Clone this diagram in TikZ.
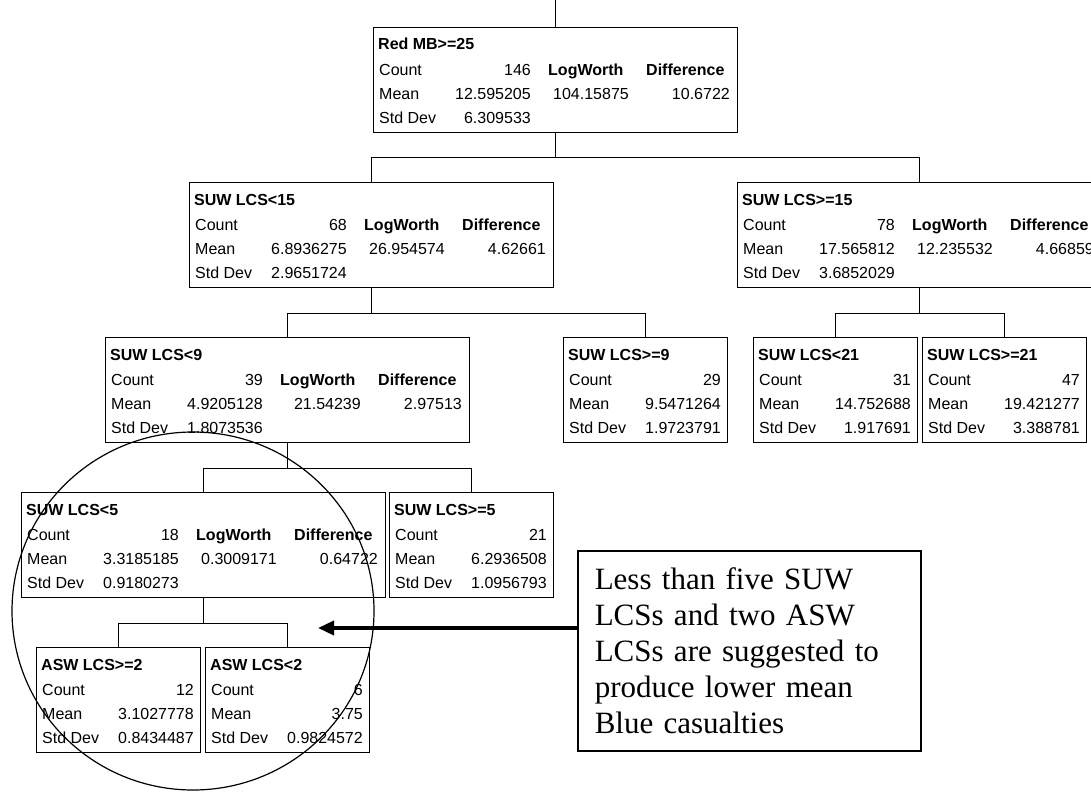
\documentclass[tikz,border=0pt]{standalone}
\usepackage{fontspec}
\setmainfont{Liberation Serif}
\setsansfont{Liberation Sans}
\usetikzlibrary{calc,positioning,arrows.meta}

\tikzset{
  tbox/.style={draw, line width=1.3pt, anchor=north west, minimum height=105pt, inner sep=0pt},
  lbl/.style={anchor=base west, inner sep=0pt, font=\sffamily\fontsize{16}{18}\selectfont},
  num/.style={anchor=base east, inner sep=0pt, font=\sffamily\fontsize{16}{18}\selectfont},
  hdr/.style={anchor=base west, inner sep=0pt, font=\sffamily\bfseries\fontsize{16}{18}\selectfont},
  link/.style={line width=1.1pt},
  notebox/.style={draw, line width=1.5pt, anchor=north west, minimum width=343pt, minimum height=200pt,
    text width=309pt, inner xsep=17pt, align=left, font=\rmfamily\fontsize{31}{36}\selectfont},
}

% split box with LogWorth / Difference columns
\newcommand{\bigbox}[9]{%
  \node[tbox, minimum width=364pt] (#1) at (#2,#3) {};
  \node[hdr] (#1-t) at ({#2+5},{#3+23}) {#4};
  \node[lbl] (#1-c) at ({#2+6},{#3+48}) {Count};
  \node[num] (#1-cv) at ({#2+158},{#3+48}) {#5};
  \node[lbl] (#1-m) at ({#2+6},{#3+72}) {Mean};
  \node[num] (#1-mv) at ({#2+158},{#3+72}) {#6};
  \node[lbl] (#1-s) at ({#2+6},{#3+96}) {Std Dev};
  \node[num] (#1-sv) at ({#2+158},{#3+96}) {#7};
  \node[hdr] (#1-lw) at ({#2+175},{#3+48}) {LogWorth};
  \node[num] (#1-lwv) at ({#2+256},{#3+72}) {#8};
  \node[hdr] (#1-d) at ({#2+273},{#3+48}) {Difference};
  \node[num] (#1-dv) at ({#2+357},{#3+72}) {#9};
}
% leaf box
\newcommand{\smallbox}[7]{%
  \node[tbox, minimum width=164pt] (#1) at (#2,#3) {};
  \node[hdr] (#1-t) at ({#2+5},{#3+23}) {#4};
  \node[lbl] (#1-c) at ({#2+6},{#3+48}) {Count};
  \node[num] (#1-cv) at ({#2+158},{#3+48}) {#5};
  \node[lbl] (#1-m) at ({#2+6},{#3+72}) {Mean};
  \node[num] (#1-mv) at ({#2+158},{#3+72}) {#6};
  \node[lbl] (#1-s) at ({#2+6},{#3+96}) {Std Dev};
  \node[num] (#1-sv) at ({#2+158},{#3+96}) {#7};
}

\begin{document}
\begin{tikzpicture}[x=1pt,y=-1pt]
        \useasboundingbox (0,0) rectangle (1091,792);
        \clip (0,0) rectangle (1091,792);

        % splits
        \bigbox{root}{373}{27}{Red MB>=25}{146}{12.595205}{6.309533}{104.15875}{10.6722}
        \bigbox{lcsLt15}{189}{182}{SUW LCS<15}{68}{6.8936275}{2.9651724}{26.954574}{4.62661}
        \bigbox{lcsGe15}{737}{182}{SUW LCS>=15}{78}{17.565812}{3.6852029}{12.235532}{4.66859}
        \bigbox{lcsLt9}{105}{337}{SUW LCS<9}{39}{4.9205128}{1.8073536}{21.54239}{2.97513}
        \bigbox{lcsLt5}{21}{492}{SUW LCS<5}{18}{3.3185185}{0.9180273}{0.3009171}{0.64722}
        % leaves
        \smallbox{lcsGe9}{563}{337}{SUW LCS>=9}{29}{9.5471264}{1.9723791}
        \smallbox{lcsLt21}{753}{337}{SUW LCS<21}{31}{14.752688}{1.917691}
        \smallbox{lcsGe21}{922}{337}{SUW LCS>=21}{47}{19.421277}{3.388781}
        \smallbox{lcsGe5}{389}{492}{SUW LCS>=5}{21}{6.2936508}{1.0956793}
        \smallbox{aswGe2}{36}{647}{ASW LCS>=2}{12}{3.1027778}{0.8434487}
        \smallbox{aswLt2}{205}{647}{ASW LCS<2}{6}{3.75}{0.9824572}

        % tree lines
        \draw[link] (root.north) -- ++(0,-27);
        \draw[link] (root.south) -- ++(0,24) coordinate (j1);
        \draw[link] (lcsLt15.north) |- (j1) -| (lcsGe15.north);
        \draw[link] (lcsLt15.south) -- ++(0,25) coordinate (j2);
        \draw[link] (lcsLt9.north) |- (j2) -| (lcsGe9.north);
        \draw[link] (lcsGe15.south) -- ++(0,25) coordinate (j3);
        \draw[link] (lcsLt21.north) |- (j3) -| (lcsGe21.north);
        \draw[link] (lcsLt9.south) -- ++(0,25) coordinate (j4);
        \draw[link] (lcsLt5.north) |- (j4) -| (lcsGe5.north);
        \draw[link] (lcsLt5.south) -- ++(0,25) coordinate (j5);
        \draw[link] (aswGe2.north) |- (j5) -| (aswLt2.north);

        % callout
        \node[notebox] (note) at (577,550) {Less than five SUW\\ LCSs and two ASW\\ LCSs are suggested to\\ produce lower mean\\ Blue casualties};
        \coordinate (tip) at (318,628);
        \draw[line width=3.5pt, -{Triangle[length=16pt,width=14pt]}] (note.west |- tip) -- (tip);
        \draw[line width=1.2pt] (193,611) ellipse [x radius=181pt, y radius=179pt];
\end{tikzpicture}
\end{document}
